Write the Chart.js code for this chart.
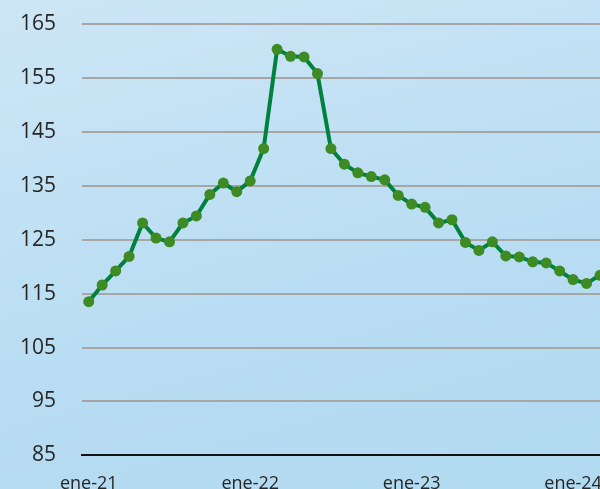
<!DOCTYPE html>
<html>
<head>
<meta charset="utf-8">
<script src="https://cdn.jsdelivr.net/npm/chart.js@4/dist/chart.umd.min.js"></script>
<style>
  html, body { margin: 0; padding: 0; overflow: hidden; width: 600px; height: 489px; }
  #wrap {
    width: 600px; height: 513px;
    background: linear-gradient(165deg, #cde6f6 0%, #b9ddf2 55%, #b0d9f0 100%);
  }
</style>
</head>
<body>
<div id="wrap"><canvas id="chart" width="600" height="513"></canvas></div>
<script>
// meses ene-21 .. mar-24
const months = ['ene', 'feb', 'mar', 'abr', 'may', 'jun', 'jul', 'ago', 'sep', 'oct', 'nov', 'dic'];
const years = ['21', '22', '23', '24'];
const labels = [];
years.forEach(y => months.forEach(m => labels.push(m + '-' + y)));
labels.length = 39;

const values = [
  113.5, 116.6, 119.2, 121.9, 128.1, 125.3, 124.6, 128.1, 129.4, 133.4, 135.5, 133.9,
  135.9, 141.9, 160.3, 159.0, 158.9, 155.8, 141.9, 139.0, 137.4, 136.7, 136.1, 133.2,
  131.6, 131.0, 128.1, 128.7, 124.5, 123.0, 124.6, 122.0, 121.8, 120.9, 120.7, 119.2,
  117.6, 116.9, 118.4
];

const xTicks = [0, 12, 24, 36];
const yMin = 85, yMax = 165, yStep = 10;

const ctx = document.getElementById('chart').getContext('2d');
new Chart(ctx, {
  type: 'line',
  data: {
    datasets: [{
      data: values.map((v, i) => ({ x: i, y: v })),
      borderColor: '#00813d',
      borderWidth: 4,
      pointRadius: 5.5,
      pointBackgroundColor: '#3e8a23',
      pointBorderWidth: 0,
      tension: 0
    }]
  },
  options: {
    responsive: false,
    animation: false,
    layout: { autoPadding: false, padding: { left: -6, top: 24, right: 0, bottom: 0 } },
    plugins: { legend: { display: false }, tooltip: { enabled: false } },
    scales: {
      x: {
        type: 'linear',
        min: -0.5,
        max: 38,
        afterBuildTicks: scale => { scale.ticks = xTicks.map(value => ({ value })); },
        afterFit: scale => { scale.paddingLeft = 0; scale.paddingRight = 0; },
        grid: { display: false, drawTicks: false },
        border: { display: true, color: '#111', width: 2 },
        ticks: {
          padding: 18,
          color: '#262626',
          font: { family: 'Open Sans', size: 18 },
          maxRotation: 0,
          callback: v => labels[v]
        }
      },
      y: {
        min: yMin,
        max: yMax,
        afterFit: scale => { scale.paddingTop = 0; scale.paddingBottom = 0; },
        grid: { color: '#a6a6a6', lineWidth: 2, drawTicks: false },
        border: { display: false },
        ticks: {
          stepSize: yStep,
          padding: 26,
          color: '#262626',
          font: { family: 'Open Sans', size: 21 }
        }
      }
    }
  }
});
</script>
</body>
</html>
